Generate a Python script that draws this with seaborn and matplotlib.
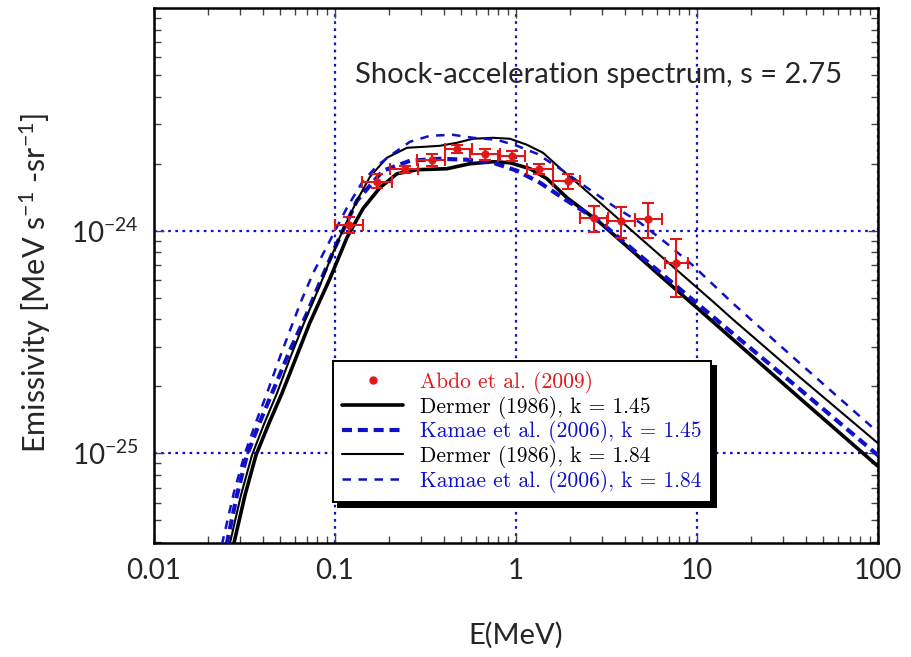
import numpy as np
import seaborn as sns
import matplotlib.pyplot as plt
from matplotlib.lines import Line2D
from matplotlib.ticker import FixedLocator, LogLocator, FuncFormatter, NullFormatter

# Abdo et al. (2009) data points
E_pts = [0.1195, 0.170, 0.2436, 0.342, 0.470, 0.674, 0.947, 1.345, 1.93, 2.70, 3.80, 5.38, 7.66]
E_lo = [0.100, 0.1405, 0.2014, 0.2838, 0.4052, 0.557, 0.795, 1.150, 1.601, 2.258, 3.184, 4.545, 6.657]
E_hi = [0.143, 0.2057, 0.2875, 0.4052, 0.569, 0.816, 1.121, 1.601, 2.258, 3.224, 4.545, 6.38, 8.95]
F_pts = [1.06e-24, 1.658e-24, 1.891e-24, 2.075e-24, 2.325e-24, 2.208e-24, 2.169e-24, 1.891e-24,
         1.676e-24, 1.136e-24, 1.109e-24, 1.128e-24, 7.13e-25]
F_lo = [0.976e-24, 1.56e-24, 1.807e-24, 1.956e-24, 2.23e-24, 2.08e-24, 2.06e-24, 1.80e-24,
        1.543e-24, 0.983e-24, 0.927e-24, 0.927e-24, 5.02e-25]
F_hi = [1.15e-24, 1.80e-24, 1.956e-24, 2.215e-24, 2.43e-24, 2.325e-24, 2.268e-24, 2.0e-24,
        1.80e-24, 1.294e-24, 1.272e-24, 1.326e-24, 9.18e-25]

# Dermer (1986), k = 1.45
E_d145 = [0.02628, 0.02767, 0.03184, 0.0366, 0.04319, 0.05095, 0.06012, 0.07277, 0.09385, 0.1165,
          0.1428, 0.1772, 0.2201, 0.2838, 0.4157, 0.5569, 0.7461, 0.9267, 1.195, 1.484, 1.913,
          2.911, 4.431, 6.248, 10.39, 15.81, 37.08, 100]
F_d145 = [3.31e-26, 3.95e-26, 6.48e-26, 9.79e-26, 1.363e-25, 1.858e-25, 2.612e-25, 3.868e-25,
          6.093e-25, 9.30e-25, 1.255e-24, 1.559e-24, 1.801e-24, 1.877e-24, 1.897e-24, 1.997e-24,
          2.039e-24, 2.018e-24, 1.897e-24, 1.711e-24, 1.406e-24, 1.086e-24, 8.05e-25, 6.28e-25,
          4.38e-25, 3.245e-25, 1.764e-25, 8.74e-26]

# Kamae et al. (2006), k = 1.45
E_k145 = [0.02405, 0.0253, 0.02874, 0.03265, 0.03802, 0.04486, 0.0564, 0.07005, 0.0826, 0.1,
          0.1323, 0.1841, 0.2597, 0.3803, 0.5362, 0.7461, 1.013, 1.357, 1.913, 2.911, 4.843,
          9.148, 17.29, 37.08, 100]
F_k145 = [3.31e-26, 3.95e-26, 6.48e-26, 9.79e-26, 1.349e-25, 1.858e-25, 2.896e-25, 4.245e-25,
          5.845e-25, 8.388e-25, 1.363e-24, 1.858e-24, 2.06e-24, 2.103e-24, 2.082e-24, 2.018e-24,
          1.858e-24, 1.641e-24, 1.363e-24, 1.097e-24, 7.727e-25, 5.007e-25, 3.245e-25, 1.936e-25,
          9.79e-26]

# Dermer (1986), k = 1.84
E_d184 = [0.02498, 0.0263, 0.03025, 0.03478, 0.04052, 0.0478, 0.0564, 0.06829, 0.0826, 0.0975,
          0.1135, 0.1323, 0.1561, 0.1937, 0.25, 0.3141, 0.3803, 0.4721, 0.5785, 0.7461, 0.9267,
          1.15, 1.41, 1.819, 2.911, 5.50, 12.26, 15.81, 37.08, 100]
F_d184 = [3.31e-26, 3.95e-26, 6.48e-26, 9.79e-26, 1.349e-25, 1.858e-25, 2.667e-25, 3.948e-25,
          5.667e-25, 7.967e-25, 1.053e-24, 1.363e-24, 1.746e-24, 2.125e-24, 2.356e-24, 2.381e-24,
          2.405e-24, 2.481e-24, 2.586e-24, 2.612e-24, 2.586e-24, 2.43e-24, 2.238e-24, 1.858e-24,
          1.335e-24, 8.48e-25, 4.80e-25, 3.99e-25, 2.192e-25, 1.109e-25]

# Kamae et al. (2006), k = 1.84
E_k184 = [0.0227, 0.02405, 0.02767, 0.03184, 0.0366, 0.0421, 0.04842, 0.0564, 0.0649, 0.07557,
          0.09385, 0.1165, 0.141, 0.1706, 0.2091, 0.2597, 0.3349, 0.4486, 0.5785, 0.7852, 1.013,
          1.306, 1.751, 2.468, 3.435, 4.843, 6.829, 9.504, 15.81, 37.08, 100]
F_k184 = [3.31e-26, 4.07e-26, 6.68e-26, 1.0e-25, 1.377e-25, 1.858e-25, 2.559e-25, 3.561e-25,
          4.80e-25, 6.42e-25, 9.02e-25, 1.268e-24, 1.641e-24, 1.956e-24, 2.215e-24, 2.507e-24,
          2.667e-24, 2.695e-24, 2.612e-24, 2.559e-24, 2.405e-24, 2.215e-24, 1.897e-24, 1.559e-24,
          1.294e-24, 1.086e-24, 8.74e-25, 6.97e-25, 4.71e-25, 2.532e-25, 1.242e-25]

x_ticks = [0.01, 0.1, 1, 10, 100]
x_ticklabels = ['0.01', '0.1', '1', '10', '100']
y_ticks = [1e-25, 1e-24]

BLUE = '#1010c8'
RED = '#e01818'

sns.set_style('ticks')
plt.rcParams['font.family'] = ['Lato', 'DejaVu Sans']
plt.rcParams['mathtext.default'] = 'regular'

fig = plt.figure(figsize=(9.11, 6.57), dpi=100)
ax = fig.add_axes([0.169, 0.1735, 0.7947, 0.8143])
ax.set_xscale('log')
ax.set_yscale('log')
ax.set_xlim(0.01, 100)
ax.set_ylim(3.95e-26, 1e-23)

# curves
sns.lineplot(x=E_d145, y=F_d145, ax=ax, color='black', lw=2.6, sort=False, estimator=None, zorder=3)
sns.lineplot(x=E_k145, y=F_k145, ax=ax, color=BLUE, lw=3.0, ls=(0, (2.4, 1.4)),
             sort=False, estimator=None, zorder=3)
sns.lineplot(x=E_d184, y=F_d184, ax=ax, color='black', lw=1.5, sort=False, estimator=None, zorder=3)
sns.lineplot(x=E_k184, y=F_k184, ax=ax, color=BLUE, lw=1.8, ls=(0, (3.4, 3.0)),
             sort=False, estimator=None, zorder=3)

# data with error bars
E_arr = np.array(E_pts)
F_arr = np.array(F_pts)
xerr = [E_arr - np.array(E_lo), np.array(E_hi) - E_arr]
yerr = [F_arr - np.array(F_lo), np.array(F_hi) - F_arr]
ax.errorbar(E_arr, F_arr, xerr=xerr, yerr=yerr, fmt='none', ecolor=RED, elinewidth=1.5,
            capsize=4, capthick=1.5, zorder=4)
sns.scatterplot(x=E_pts, y=F_pts, ax=ax, color=RED, s=30, edgecolor=RED, zorder=5)

# grid and ticks
ax.set_axisbelow(True)
ax.xaxis.set_major_locator(FixedLocator(x_ticks))
ax.xaxis.set_major_formatter(FuncFormatter(lambda v, p: x_ticklabels[x_ticks.index(v)] if v in x_ticks else ''))
ax.xaxis.set_minor_locator(LogLocator(base=10, subs=np.arange(2, 10)))
ax.xaxis.set_minor_formatter(NullFormatter())
ax.yaxis.set_major_locator(FixedLocator(y_ticks))
ax.yaxis.set_major_formatter(FuncFormatter(lambda v, p: r'$10^{%d}$' % round(np.log10(v))))
ax.yaxis.set_minor_locator(LogLocator(base=10, subs=np.arange(2, 10)))
ax.yaxis.set_minor_formatter(NullFormatter())
ax.grid(which='major', color=BLUE, ls=(0, (1.2, 2.0)), lw=1.6)
ax.tick_params(which='both', direction='in', top=True, right=True, width=1, color='#444444')
ax.tick_params(which='major', length=7, labelsize=20, pad=11)
ax.tick_params(which='minor', length=5)
for sp in ax.spines.values():
    sp.set_linewidth(1.8)
    sp.set_color('black')

ax.set_xlabel('E(MeV)', fontsize=21)
ax.xaxis.set_label_coords(0.5, -0.148)
ax.set_ylabel(r'Emissivity [MeV s$^{-1}$ -sr$^{-1}$]', fontsize=22)
ax.yaxis.set_label_coords(-0.14, 0.487)

ax.text(0.614, 0.875, 'Shock-acceleration spectrum, s = 2.75', transform=ax.transAxes,
        ha='center', va='center', fontsize=21)

# legend
handles = [
    Line2D([], [], ls='none', marker='o', ms=5, color=RED),
    Line2D([], [], color='black', lw=2.6),
    Line2D([], [], color=BLUE, lw=3.0, ls=(0, (2.4, 1.4))),
    Line2D([], [], color='black', lw=1.5),
    Line2D([], [], color=BLUE, lw=1.8, ls=(0, (3.4, 3.0))),
]
labels = ['Abdo et al. (2009)', 'Dermer (1986), k = 1.45', 'Kamae et al. (2006), k = 1.45',
          'Dermer (1986), k = 1.84', 'Kamae et al. (2006), k = 1.84']
leg = ax.legend(handles, labels, loc='upper left', bbox_to_anchor=(0.247, 0.34), borderaxespad=0,
                prop={'family': 'cmr10', 'size': 15.5}, labelcolor=[RED, 'black', BLUE, 'black', BLUE],
                handlelength=2.8, handletextpad=0.8, labelspacing=0.08, borderpad=0.45,
                fancybox=False, framealpha=1, edgecolor='black',
                shadow={'ox': 3.5, 'oy': -3.5, 'color': 'black', 'alpha': 1})
leg.get_frame().set_linewidth(1.4)
leg.set_zorder(10)

fig.savefig('out.png', dpi=100, facecolor='white')
